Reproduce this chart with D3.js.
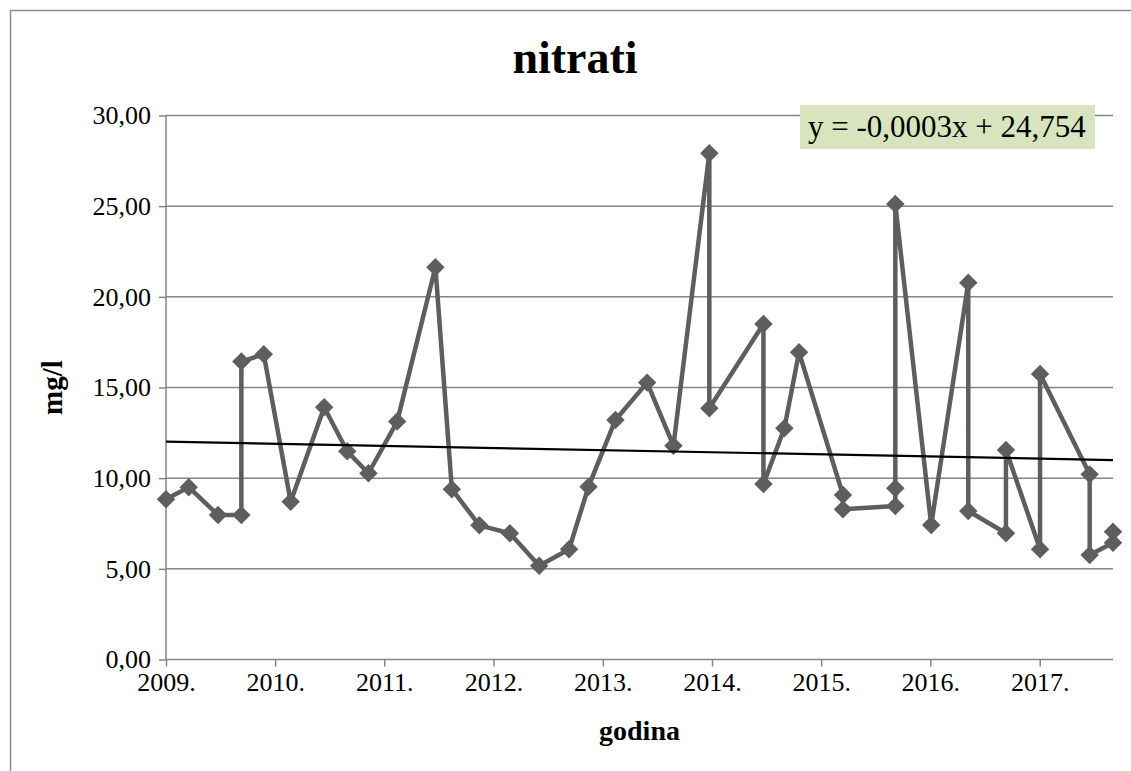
<!DOCTYPE html>
<html>
<head>
<meta charset="utf-8">
<script src="https://cdn.jsdelivr.net/npm/d3@7"></script>
<style>
  body { margin: 0; background: #fff; }
  svg text { font-family: "Liberation Serif", "Times New Roman", serif; }
</style>
</head>
<body>
<svg id="main" width="1131" height="771"></svg>
<script>
// measurement dates and nitrate values (mg/l)
var dates = [
  "2009-01-01", "2009-03-18", "2009-06-24", "2009-09-10", "2009-09-10", "2009-11-24",
  "2010-02-22", "2010-06-14", "2010-08-30", "2010-11-09",
  "2011-02-13", "2011-06-21", "2011-08-15", "2011-11-15",
  "2012-02-25", "2012-06-02", "2012-09-10", "2012-11-14",
  "2013-02-12", "2013-05-29", "2013-08-25", "2013-12-23", "2013-12-23",
  "2014-06-22", "2014-06-22", "2014-08-31", "2014-10-19",
  "2015-03-15", "2015-03-15", "2015-09-06", "2015-09-06", "2015-09-06",
  "2016-01-04", "2016-05-07", "2016-05-07", "2016-09-10", "2016-09-10",
  "2017-01-02", "2017-01-02", "2017-06-17", "2017-06-17", "2017-09-03", "2017-09-03"
]
var values = [
  8.84, 9.50, 7.97, 7.97, 16.43, 16.83,
  8.70, 13.91, 11.48, 10.27,
  13.12, 21.63, 9.39, 7.40,
  6.96, 5.17, 6.08, 9.53,
  13.21, 15.27, 11.79, 27.92, 13.86,
  18.50, 9.68, 12.75, 16.94,
  9.07, 8.28, 8.47, 9.44, 25.12,
  7.42, 20.78, 8.19, 6.96, 11.56,
  6.08, 15.75, 10.21, 5.76, 6.44, 7.05
]
var yTicks = [0, 5, 10, 15, 20, 25, 30]
// linear trend in excel date serials
var trendSlope = -0.00032
var trendIntercept = 24.754
var trendLabel = "y = -0,0003x + 24,754"

function drawChart() {
  var parse = d3.utcParse("%Y-%m-%d")
  var points = dates.map(function(d, i) { return { date: parse(d), value: values[i] } })

  var svg = d3.select('#main')
  var plotLeft = 166, plotRight = 1113, plotTop = 115.5, plotBottom = 659.5

  var x = d3.scaleUtc().domain(d3.extent(points, function(d) { return d.date })).range([plotLeft, plotRight])
  var y = d3.scaleLinear().domain([0, 30]).range([plotBottom, plotTop])

  // chart border
  svg.append('rect')
    .attr('x', 10.5).attr('y', 10.5)
    .attr('width', 1200).attr('height', 800)
    .attr('fill', 'none').attr('stroke', '#8c8c8c').attr('stroke-width', 1.5)

  svg.append('text')
    .attr('x', 575).attr('y', 73)
    .attr('text-anchor', 'middle')
    .style('font-size', '46px').style('font-weight', 'bold')
    .text('nitrati')

  // y axis with gridlines
  var yAxis = svg.append('g')
    .attr('transform', 'translate(' + plotLeft + ',0)')
    .call(d3.axisLeft(y).tickValues(yTicks).tickSize(7).tickPadding(8)
      .tickFormat(function(d) { return d.toFixed(2).replace('.', ',') }))
  yAxis.selectAll('.tick line').attr('stroke', '#868686').attr('stroke-width', 1.5)
  yAxis.selectAll('.tick text').style('font-size', '26px').attr('fill', '#000')
    .style('font-family', '"Liberation Serif", serif')
  yAxis.select('.domain').remove()

  svg.append('g').selectAll('line')
    .data(yTicks.filter(function(d) { return d > 0 }))
    .enter().append('line')
    .attr('x1', plotLeft).attr('x2', plotRight)
    .attr('y1', function(d) { return y(d) }).attr('y2', function(d) { return y(d) })
    .attr('stroke', '#868686').attr('stroke-width', 1.5)

  var xAxis = svg.append('g')
    .attr('transform', 'translate(0,' + plotBottom + ')')
    .call(d3.axisBottom(x).ticks(d3.utcYear.every(1)).tickSize(7).tickPadding(6)
      .tickFormat(d3.utcFormat('%Y.')))
  xAxis.selectAll('.tick line').attr('stroke', '#868686').attr('stroke-width', 1.5)
  xAxis.selectAll('.tick text').style('font-size', '26px').attr('fill', '#000')
    .style('font-family', '"Liberation Serif", serif')
  xAxis.select('.domain').remove()

  svg.append('line')
    .attr('x1', plotLeft).attr('x2', plotLeft).attr('y1', plotTop).attr('y2', plotBottom)
    .attr('stroke', '#868686').attr('stroke-width', 1.5)
  svg.append('line')
    .attr('x1', plotLeft).attr('x2', plotRight).attr('y1', plotBottom).attr('y2', plotBottom)
    .attr('stroke', '#868686').attr('stroke-width', 1.5)

  // series
  var line = d3.line().x(function(d) { return x(d.date) }).y(function(d) { return y(d.value) })
  svg.append('path')
    .datum(points)
    .attr('d', line)
    .attr('fill', 'none').attr('stroke', '#5e5e5e').attr('stroke-width', 4.5)
    .attr('stroke-linejoin', 'round')

  svg.append('g').selectAll('path')
    .data(points)
    .enter().append('path')
    .attr('d', d3.symbol(d3.symbolSquare, 170))
    .attr('transform', function(d) { return 'translate(' + x(d.date) + ',' + y(d.value) + ') rotate(45)' })
    .attr('fill', '#5e5e5e')

  // trendline from excel serial dates
  var excelEpoch = Date.UTC(1899, 11, 30)
  function trend(date) { return trendIntercept + trendSlope * (date - excelEpoch) / 86400000 }
  svg.append('path')
    .datum(x.domain())
    .attr('d', d3.line().x(function(d) { return x(d) }).y(function(d) { return y(trend(d)) }))
    .attr('stroke', '#000').attr('stroke-width', 2.2).attr('fill', 'none')

  // equation label
  svg.append('rect')
    .attr('x', 800).attr('y', 105).attr('width', 295).attr('height', 44)
    .attr('fill', '#d7e4bd')
  svg.append('text')
    .attr('x', 808).attr('y', 137)
    .style('font-size', '31px')
    .text(trendLabel)

  // axis titles
  svg.append('text')
    .attr('x', (plotLeft + plotRight) / 2).attr('y', 740)
    .attr('text-anchor', 'middle')
    .style('font-size', '28px').style('font-weight', 'bold')
    .text('godina')
  svg.append('text')
    .attr('transform', 'translate(62,' + (plotTop + plotBottom) / 2 + ') rotate(-90)')
    .attr('text-anchor', 'middle')
    .style('font-size', '29px').style('font-weight', 'bold')
    .text('mg/l')
}

drawChart()
</script>
</body>
</html>
